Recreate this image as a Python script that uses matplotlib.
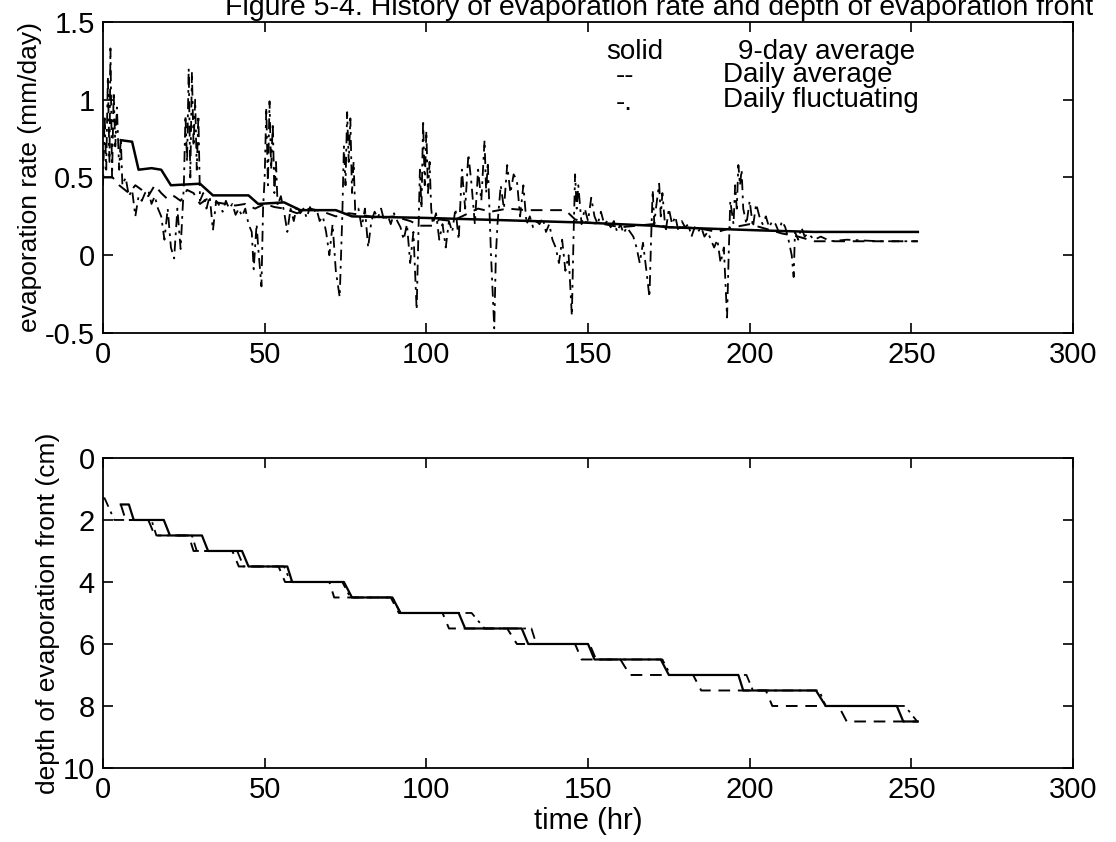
#!/usr/bin/env python3
"""Figure 5-4: evaporation rate history and depth of evaporation front."""

import matplotlib
matplotlib.use("Agg")
import matplotlib.pyplot as plt

plt.rcParams["font.family"] = ["Liberation Sans", "DejaVu Sans"]
plt.rcParams["font.size"] = 21

# --- top panel: evaporation rate (mm/day) ---------------------------------
AVG9_T = [5.5, 9, 11, 15, 18, 21, 30, 34, 45, 48, 56, 61, 72, 77, 100, 149,
          170, 175, 203, 220, 252]
AVG9_V = [0.74, 0.73, 0.55, 0.56, 0.55, 0.45, 0.46, 0.385, 0.385, 0.33, 0.34,
          0.29, 0.29, 0.25, 0.24, 0.21, 0.19, 0.18, 0.16, 0.15, 0.15]

DAILY_T = [0, 3, 5, 8, 10, 12, 14, 16, 18, 20, 22, 24, 26, 28, 30, 32, 35, 38,
           41, 44, 47, 50, 53, 56, 60, 64, 68, 72, 76, 80, 85, 90, 95, 98, 102,
           104, 108, 112, 116, 120, 125, 131, 143, 146, 150, 155, 160, 165,
           170, 175, 180, 185, 190, 195, 200, 205, 210, 215, 220, 252]
DAILY_V = [0.5, 0.5, 0.45, 0.4, 0.45, 0.42, 0.38, 0.45, 0.4, 0.36, 0.38, 0.35,
           0.42, 0.4, 0.33, 0.36, 0.34, 0.33, 0.32, 0.33, 0.3, 0.33, 0.31, 0.3,
           0.27, 0.3, 0.28, 0.25, 0.27, 0.26, 0.24, 0.25, 0.22, 0.19, 0.19,
           0.23, 0.22, 0.26, 0.3, 0.28, 0.3, 0.29, 0.29, 0.23, 0.21, 0.2, 0.18,
           0.19, 0.2, 0.18, 0.18, 0.17, 0.15, 0.18, 0.2, 0.17, 0.14, 0.12,
           0.09, 0.09]

FLUCT_T = [0, 0.5, 1, 1.5, 2, 2.3, 2.8, 3.3, 3.8, 4.3, 5, 5.5, 6, 7, 8, 9, 10,
           11, 12, 13, 14, 15, 16, 17, 18, 19, 20, 21, 22, 23, 24, 25, 25.5,
           26, 26.5, 27, 27.5, 28, 28.5, 29, 29.5, 30, 31, 32, 33, 34, 35, 36,
           37, 38, 39, 40, 41, 42, 43, 44, 45, 46, 46.6, 47.5, 48, 49, 49.5,
           50, 50.5, 51, 51.5, 52, 52.5, 53, 53.5, 54, 55, 56, 57, 58, 59, 60,
           61, 62, 63, 64, 65, 66, 67, 68, 69, 70, 71, 72, 73.2, 74, 74.5, 75,
           75.5, 76, 76.5, 77, 77.5, 78, 79, 80, 81, 82, 83, 84, 85, 86, 87,
           88, 89, 90, 91, 92, 93, 94, 95, 96, 97, 97.5, 98, 98.5, 99, 99.5,
           100, 100.5, 101, 101.5, 102, 103, 104, 105, 106, 107, 108, 109, 110,
           111, 112, 113, 114, 115, 116, 117, 118, 118.5, 119, 120, 121, 121.5,
           122, 123, 124, 125, 126, 127, 128, 129, 130, 131, 132, 133, 134,
           135, 136, 137, 138, 139, 140, 141, 142, 143, 144, 145, 145.5, 146,
           146.5, 147, 148, 149, 150, 151, 152, 153, 154, 155, 156, 157, 158,
           159, 160, 161, 162, 163, 164, 165, 166, 167, 168, 169, 169.5, 170,
           170.5, 171, 172, 172.5, 173, 174, 175, 176, 177, 178, 179, 180, 181,
           182, 183, 184, 185, 186, 187, 188, 189, 190, 191, 192, 193, 193.5,
           194, 195, 195.5, 196, 196.5, 197, 197.5, 198, 199, 200, 201, 202,
           203, 204, 205, 206, 207, 208, 209, 210, 211, 212, 213, 213.6, 214,
           215, 216, 217, 218, 220, 222, 225, 230, 240, 252]
FLUCT_V = [0.45, 0.9, 0.55, 1.15, 0.6, 1.33, 0.5, 1.05, 0.7, 0.95, 0.55, 0.75,
           0.45, 0.5, 0.38, 0.42, 0.25, 0.38, 0.35, 0.4, 0.42, 0.33, 0.38, 0.3,
           0.25, 0.1, 0.3, 0.05, -0.02, 0.3, 0.04, 0.45, 0.9, 0.6, 1.2, 0.5,
           1.18, 0.7, 1.0, 0.55, 0.9, 0.35, 0.4, 0.3, 0.38, 0.16, 0.35, 0.32,
           0.28, 0.35, 0.3, 0.33, 0.26, 0.3, 0.25, 0.3, 0.2, 0.15, -0.09, 0.2,
           0.05, -0.2, 0.3, 0.5, 0.95, 0.45, 0.99, 0.55, 0.85, 0.4, 0.6, 0.32,
           0.38, 0.28, 0.15, 0.3, 0.22, 0.32, 0.27, 0.3, 0.24, 0.31, 0.27, 0.3,
           0.22, 0.25, 0.15, 0.0, 0.2, -0.1, -0.27, 0.25, 0.7, 0.45, 0.92, 0.6,
           0.88, 0.4, 0.6, 0.28, 0.3, 0.18, 0.3, 0.05, 0.22, 0.28, 0.24, 0.3,
           0.22, 0.26, 0.2, 0.27, 0.22, 0.18, 0.1, 0.2, -0.05, 0.15, -0.35,
           0.1, 0.55, 0.3, 0.87, 0.45, 0.8, 0.4, 0.6, 0.3, 0.2, 0.27, 0.1, 0.2,
           0.05, 0.22, 0.15, 0.3, 0.1, 0.55, 0.3, 0.65, 0.45, 0.2, 0.55, 0.35,
           0.74, 0.4, 0.6, 0.0, -0.47, 0.0, 0.2, 0.45, 0.3, 0.58, 0.4, 0.52,
           0.48, 0.25, 0.45, 0.2, 0.25, 0.18, 0.22, 0.2, 0.24, 0.15, 0.2, 0.1,
           0.05, -0.05, 0.1, -0.1, 0.0, -0.39, 0.1, 0.52, 0.3, 0.45, 0.2, 0.3,
           0.22, 0.37, 0.25, 0.2, 0.28, 0.2, 0.22, 0.18, 0.22, 0.15, 0.2, 0.14,
           0.18, 0.15, 0.12, 0.05, -0.05, 0.08, -0.09, -0.27, 0.1, 0.42, 0.2,
           0.3, 0.46, 0.25, 0.4, 0.15, 0.3, 0.2, 0.25, 0.15, 0.22, 0.18, 0.2,
           0.12, 0.18, 0.15, 0.18, 0.12, 0.15, 0.1, 0.05, 0.1, -0.05, 0.05,
           -0.4, 0.0, 0.35, 0.2, 0.45, 0.3, 0.58, 0.45, 0.55, 0.3, 0.2, 0.35,
           0.18, 0.33, 0.25, 0.2, 0.25, 0.18, 0.22, 0.2, 0.15, 0.22, 0.18, 0.1,
           0.0, -0.14, 0.15, 0.1, 0.18, 0.12, 0.14, 0.1, 0.12, 0.09, 0.1, 0.09,
           0.09]

# --- bottom panel: depth of evaporation front (cm) --------------------------
# depth reached after each drop; drops are (start, end) times in hr
LEVELS = [2.0, 2.5, 3.0, 3.5, 4.0, 4.5, 5.0, 5.5, 6.0, 6.5, 7.0, 7.5, 8.0, 8.5]
AVG9_DEPTH0 = 1.5
AVG9_START = 5.5
AVG9_DROPS = [(8, 9.5), (18.8, 20.7), (30.6, 32.5), (43, 45), (57, 58.5),
              (74.5, 77), (89.5, 92), (110, 112), (129.5, 131.5), (150, 152),
              (172.5, 175), (196.5, 198), (220.5, 223.5), (245.5, 247.5)]
DAILY_DEPTH0 = 1.5
DAILY_START = 5.5
DAILY_DROPS = [(5.5, 7), (14, 16), (26.5, 28), (40, 42), (54.3, 56.3),
               (70, 71.5), (89, 91.5), (105, 107), (125, 128), (146, 148),
               (160, 163), (182.5, 185), (205, 207), (227.5, 230)]
FLUCT_DEPTH0 = 1.3
FLUCT_START = 0
FLUCT_DROPS = [(0.5, 3.5), (15, 16.5), (27.5, 29), (41.5, 43.5), (56, 58),
               (74, 76.5), (89.5, 92), (114, 118), (132.5, 134), (150.5, 152.5),
               (173, 175.5), (199, 201), (221.5, 223.5), (248, 251.8)]
T_END = 252


def front_path(depth0, start, drops):
    ts, ds = [start], [depth0]
    d = depth0
    for (a, b), lvl in zip(drops, LEVELS):
        ts += [a, b]
        ds += [d, lvl]
        d = lvl
    if ts[-1] < T_END:
        ts.append(T_END)
        ds.append(d)
    return ts, ds


def style_axes(ax):
    ax.set_xlim(0, 300)
    ax.set_xticks([0, 50, 100, 150, 200, 250, 300])
    ax.tick_params(direction="in", length=7, width=1.2, top=True, right=True,
                   pad=6)
    for s in ax.spines.values():
        s.set_linewidth(1.3)


def main():
    fig = plt.figure(figsize=(11.16, 8.42), dpi=100)
    ax1 = fig.add_axes([0.0923, 0.6045, 0.8692, 0.3694])
    ax2 = fig.add_axes([0.0923, 0.0879, 0.8692, 0.3682])

    ax1.plot(AVG9_T, AVG9_V, color="black", lw=1.8, linestyle="-")
    ax1.plot(DAILY_T, DAILY_V, color="black", lw=1.4, linestyle=(0, (6, 4)))
    ax1.plot(FLUCT_T, FLUCT_V, color="black", lw=1.3,
             linestyle=(0, (6, 3, 1.5, 3)))
    style_axes(ax1)
    ax1.set_ylim(-0.5, 1.5)
    ax1.set_yticks([-0.5, 0, 0.5, 1, 1.5])
    ax1.set_yticklabels(["-0.5", "0", "0.5", "1", "1.5"])
    ax1.set_ylabel("evaporation rate (mm/day)", fontsize=19, labelpad=2)

    leg = dict(va="center", ha="left", fontsize=20)
    ax1.text(155.6, 1.31, "solid", **leg)
    ax1.text(158.6, 1.15, "--", **leg)
    ax1.text(158.6, 0.98, "-.", **leg)
    ax1.text(196.3, 1.31, "9-day average", **leg)
    ax1.text(191.7, 1.16, "Daily average", **leg)
    ax1.text(191.7, 1.00, "Daily fluctuating", **leg)

    for (d0, st, dr, ls, lw) in [
        (DAILY_DEPTH0, DAILY_START, DAILY_DROPS, (0, (6, 4)), 1.4),
        (FLUCT_DEPTH0, FLUCT_START, FLUCT_DROPS, (0, (6, 3, 1.5, 3)), 1.3),
        (AVG9_DEPTH0, AVG9_START, AVG9_DROPS, "-", 1.6),
    ]:
        ts, ds = front_path(d0, st, dr)
        ax2.plot(ts, ds, color="black", lw=lw, linestyle=ls)
    style_axes(ax2)
    ax2.set_ylim(10, 0)
    ax2.set_yticks([0, 2, 4, 6, 8, 10])
    ax2.set_ylabel("depth of evaporation front (cm)", fontsize=19, labelpad=2)
    ax2.set_xlabel("time (hr)", labelpad=2)

    fig.text(0.2016, 0.982,
             "Figure 5-4. History of evaporation rate and depth of evaporation front",
             ha="left", va="baseline", fontsize=20.5)

    fig.savefig("out.png", dpi=100)


if __name__ == "__main__":
    main()
